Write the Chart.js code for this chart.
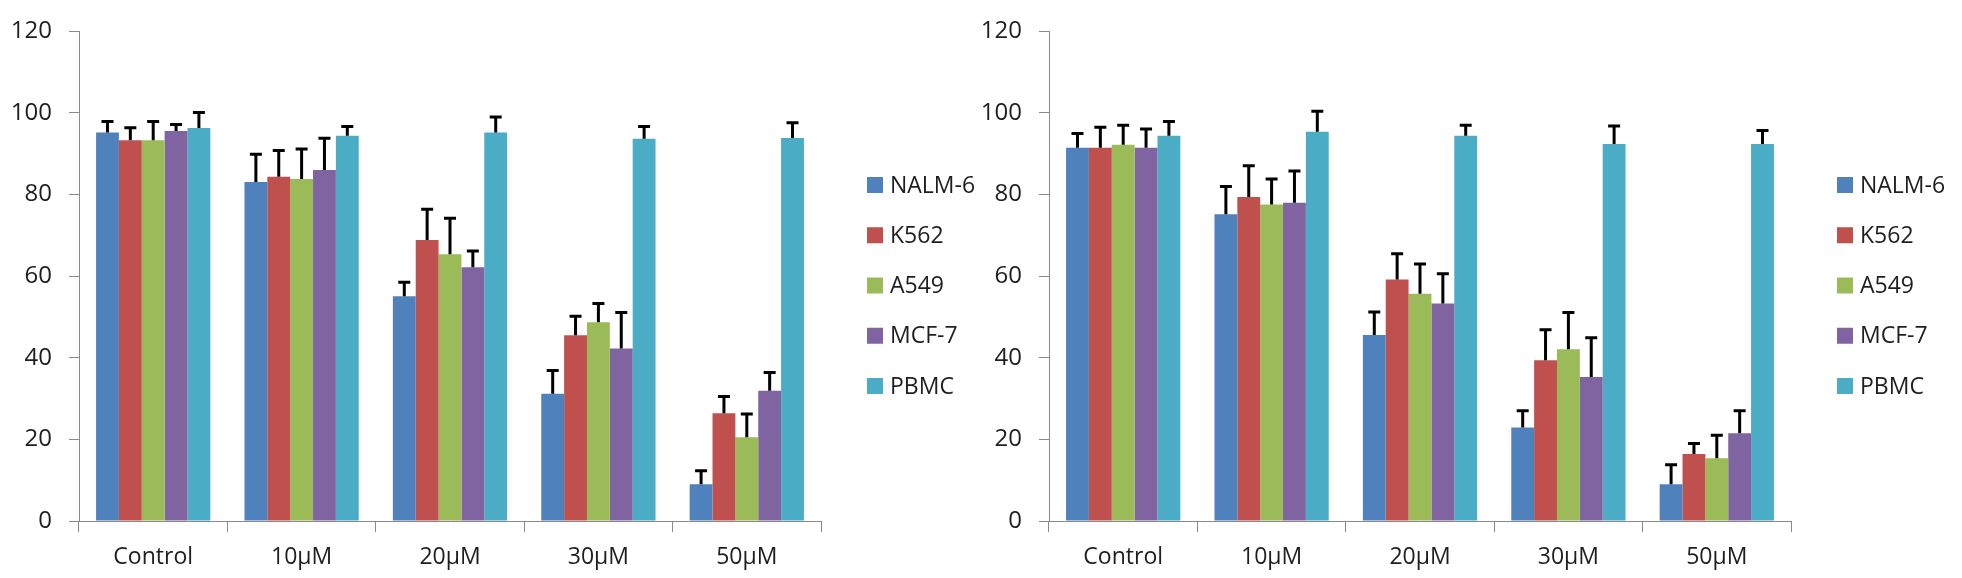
<!DOCTYPE html>
<html><head><meta charset="utf-8">
<script src="https://cdn.jsdelivr.net/npm/chart.js@4/dist/chart.umd.min.js"></script>
<style>
html,body{margin:0;padding:0;background:#fff;}
#wrap{position:relative;width:1962px;height:578px;overflow:hidden;background:#fff;}
.box{position:absolute;top:0;height:578px;}
#b1{left:0;width:991px;}
#b2{left:970px;width:992px;}
</style></head><body>
<div id="wrap">
  <div class="box" id="b1"><canvas id="c1" width="991" height="578"></canvas></div>
  <div class="box" id="b2"><canvas id="c2" width="992" height="578"></canvas></div>
</div>
<script>
// ---- data ----
const categories = ['Control', '10\u00b5M', '20\u00b5M', '30\u00b5M', '50\u00b5M'];
const seriesNames = ['NALM-6', 'K562', 'A549', 'MCF-7', 'PBMC'];
const seriesColors = ['#4F81BD', '#C0504D', '#9BBB59', '#8064A2', '#4BACC6'];
const yTickMin = 0, yTickMax = 120, yTickStep = 20;

// left panel: means
const leftNALM6 = [95.2, 83.1, 55.1, 31.2, 9.0];
const leftK562  = [93.3, 84.4, 68.9, 45.5, 26.4];
const leftA549  = [93.3, 83.8, 65.4, 48.7, 20.5];
const leftMCF7  = [95.6, 86.0, 62.2, 42.3, 31.9];
const leftPBMC  = [96.3, 94.4, 95.2, 93.7, 93.9];
// left panel: upper error
const leftNALM6Err = [2.7, 6.8, 3.4, 5.7, 3.3];
const leftK562Err  = [3.1, 6.4, 7.5, 4.7, 4.1];
const leftA549Err  = [4.6, 7.4, 8.8, 4.6, 5.7];
const leftMCF7Err  = [1.6, 7.8, 4.0, 8.8, 4.5];
const leftPBMCErr  = [3.8, 2.3, 3.8, 3.0, 3.7];

// right panel: means
const rightNALM6 = [91.5, 75.2, 45.6, 22.9, 9.0];
const rightK562  = [91.5, 79.4, 59.2, 39.4, 16.4];
const rightA549  = [92.2, 77.6, 55.7, 42.1, 15.4];
const rightMCF7  = [91.5, 78.0, 53.3, 35.3, 21.5];
const rightPBMC  = [94.4, 95.4, 94.4, 92.4, 92.4];
// right panel: upper error
const rightNALM6Err = [3.5, 6.8, 5.6, 4.1, 4.8];
const rightK562Err  = [5.0, 7.7, 6.3, 7.5, 2.6];
const rightA549Err  = [4.8, 6.2, 7.3, 9.0, 5.6];
const rightMCF7Err  = [4.6, 7.8, 7.3, 9.6, 5.5];
const rightPBMCErr  = [3.5, 5.0, 2.6, 4.4, 3.3];

// ---- styling ----
const FONT = '"Open Sans"';
const TEXT_COLOR = '#1e1e1e';
const AXIS_COLOR = '#8a8a8a';

const errorBarPlugin = {
  id: 'errorBars',
  afterDatasetsDraw(chart) {
    const ctx = chart.ctx;
    const y = chart.scales.y;
    ctx.save();
    ctx.strokeStyle = '#000';
    ctx.lineWidth = 3;
    chart.data.datasets.forEach((ds, i) => {
      const meta = chart.getDatasetMeta(i);
      meta.data.forEach((bar, j) => {
        const top = y.getPixelForValue(ds.data[j] + ds.errors[j]);
        ctx.beginPath();
        ctx.moveTo(bar.x, bar.y);
        ctx.lineTo(bar.x, top);
        ctx.moveTo(bar.x - 6, top);
        ctx.lineTo(bar.x + 6, top);
        ctx.stroke();
      });
    });
    ctx.restore();
  }
};

const sideLegendPlugin = {
  id: 'sideLegend',
  afterDraw(chart) {
    const ctx = chart.ctx;
    const left = chart.chartArea.right + 46;
    ctx.save();
    ctx.font = '23px ' + FONT;
    ctx.textBaseline = 'middle';
    ctx.textAlign = 'left';
    chart.data.datasets.forEach((ds, i) => {
      const cy = 185 + i * 50.25;
      ctx.fillStyle = ds.backgroundColor;
      ctx.fillRect(left, cy - 8, 16, 16);
      ctx.fillStyle = TEXT_COLOR;
      ctx.fillText(ds.label, left + 23, cy + 1);
    });
    ctx.restore();
  }
};

function makeChart(canvasId, seriesData, seriesErr) {
  const canvas = document.getElementById(canvasId);
  const W = canvas.width;
  return new Chart(canvas, {
    type: 'bar',
    data: {
      labels: categories,
      datasets: seriesNames.map((name, i) => ({
        label: name,
        data: seriesData[i],
        errors: seriesErr[i],
        backgroundColor: seriesColors[i],
        borderWidth: 0,
        categoryPercentage: 0.77,
        barPercentage: 1.0
      }))
    },
    options: {
      responsive: false,
      animation: false,
      devicePixelRatio: 1,
      layout: { autoPadding: false, padding: { top: 12, left: 0, bottom: 0, right: W - 821 } },
      plugins: { legend: { display: false }, tooltip: { enabled: false } },
      scales: {
        x: {
          afterFit: (s) => { s.height = 57; },
          grid: { display: true, drawOnChartArea: false, drawTicks: true, tickLength: 11, color: AXIS_COLOR, offset: true },
          border: { display: true, color: AXIS_COLOR, width: 1 },
          ticks: { color: TEXT_COLOR, font: { family: FONT, size: 23 }, padding: 12, maxRotation: 0 }
        },
        y: {
          min: yTickMin, max: yTickMax,
          afterFit: (s) => { s.width = 79; },
          grid: { display: true, drawOnChartArea: false, drawTicks: true, tickLength: 10, color: AXIS_COLOR },
          border: { display: true, color: AXIS_COLOR, width: 1 },
          ticks: { stepSize: yTickStep, color: TEXT_COLOR, font: { family: FONT, size: 24 }, padding: 17 }
        }
      }
    },
    plugins: [errorBarPlugin, sideLegendPlugin]
  });
}

makeChart('c1',
  [leftNALM6, leftK562, leftA549, leftMCF7, leftPBMC],
  [leftNALM6Err, leftK562Err, leftA549Err, leftMCF7Err, leftPBMCErr]);
makeChart('c2',
  [rightNALM6, rightK562, rightA549, rightMCF7, rightPBMC],
  [rightNALM6Err, rightK562Err, rightA549Err, rightMCF7Err, rightPBMCErr]);
</script>
</body></html>
